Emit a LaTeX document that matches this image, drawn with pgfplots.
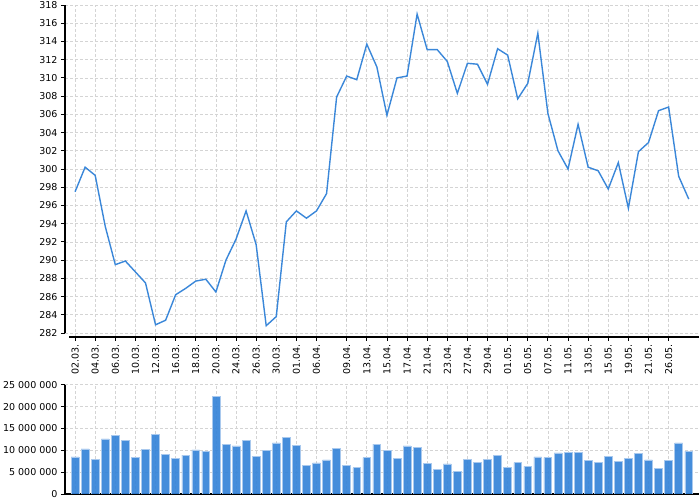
\documentclass[border=0pt]{standalone}
\usepackage{pgfplots}
\pgfplotsset{compat=1.18}
\usepackage{pgfplotstable}
\usepackage{fontspec}
\setmainfont{DejaVu Sans}

\definecolor{lineblue}{HTML}{3A87D9}
\definecolor{barblue}{HTML}{3583D8}
\definecolor{baredge}{HTML}{A9C9EE}
\definecolor{gridgray}{HTML}{D4D4D4}

% idx close volume
\pgfplotstableread{
idx close vol
0 297.5 8500000
1 300.2 10300000
2 299.3 8000000
3 293.7 12600000
4 289.5 13400000
5 289.9 12300000
6 288.7 8300000
7 287.5 10200000
8 282.9 13600000
9 283.4 9100000
10 286.2 8200000
11 286.9 8900000
12 287.7 10100000
13 287.9 9800000
14 286.5 22300000
15 290.0 11400000
16 292.3 11000000
17 295.4 12200000
18 291.7 8600000
19 282.8 9900000
20 283.8 11700000
21 294.2 12900000
22 295.4 11200000
23 294.6 6600000
24 295.4 7100000
25 297.3 7800000
26 307.9 10500000
27 310.2 6600000
28 309.8 6000000
29 313.7 8300000
30 311.2 11400000
31 305.9 9900000
32 310.0 8200000
33 310.2 11000000
34 317.0 10700000
35 313.1 7000000
36 313.1 5600000
37 311.8 6900000
38 308.3 5200000
39 311.6 7900000
40 311.5 7300000
41 309.3 8000000
42 313.2 8800000
43 312.5 6100000
44 307.7 7200000
45 309.4 6300000
46 314.9 8500000
47 306.1 8300000
48 302.0 9400000
49 300.0 9450000
50 304.9 9450000
51 300.2 7700000
52 299.8 7300000
53 297.8 8600000
54 300.7 7500000
55 295.7 8100000
56 301.9 9200000
57 302.9 7800000
58 306.4 5900000
59 306.8 7700000
60 299.2 11700000
61 296.7 9800000
}\data

\pgfplotsset{
  common/.style={
    scale only axis,
    width=633.8bp,
    xmin=-1, xmax=62,
    axis x line*=bottom,
    axis y line*=left,
    x axis line style={line width=1.3bp, -, shorten <=4bp},
    y axis line style={line width=1.3bp, -},
    tick align=outside,
    major tick length=4bp,
    tick style={black, line width=0.8bp},
    xtick={0,2,4,6,8,10,12,14,16,18,20,22,24,27,29,31,33,35,37,39,41,43,45,47,49,51,53,55,57,59},
    grid=major,
    major grid style={gridgray, line width=0.7bp, dash pattern=on 3bp off 2bp},
    /pgf/number format/assume math mode=true,
    ticklabel style={font=\fontsize{9.5bp}{11bp}\selectfont},
  }
}

\begin{document}
\begin{tikzpicture}
\path[use as bounding box] (0,0) rectangle (700bp,500bp);

\begin{axis}[
  common,
  at={(65bp,163bp)}, anchor=south west,
  height=332bp,
  ymin=281.56, ymax=318,
  ytick={282,284,...,318},
  y axis line style={shorten <=4bp},
  xticklabels={02.03.,04.03.,06.03.,10.03.,12.03.,16.03.,18.03.,20.03.,24.03.,26.03.,30.03.,01.04.,06.04.,09.04.,13.04.,15.04.,17.04.,21.04.,23.04.,27.04.,29.04.,01.05.,05.05.,07.05.,11.05.,13.05.,15.05.,19.05.,21.05.,26.05.},
  xticklabel style={rotate=90, anchor=east, xshift=0bp},
  yticklabel style={/pgf/number format/fixed},
]
\addplot[lineblue, line width=1.4bp, no markers] table[x=idx, y=close] {\data};
\end{axis}

\begin{axis}[
  common,
  at={(65bp,6bp)}, anchor=south west,
  height=109.3bp,
  ymin=0, ymax=25000000,
  ytick={0,5000000,10000000,15000000,20000000,25000000},
  scaled y ticks=false,
  yticklabel style={/pgf/number format/.cd, fixed, precision=0, 1000 sep={\ }},
  xticklabels={},
  x axis line style={shorten <=0bp, line width=1.8bp},
  xtick style={draw=none},
]
\addplot[ybar, bar width=7.8bp, fill=barblue, fill opacity=0.92, draw=baredge, line width=0.6bp]
  table[x=idx, y=vol] {\data};
\end{axis}
\end{tikzpicture}
\end{document}
